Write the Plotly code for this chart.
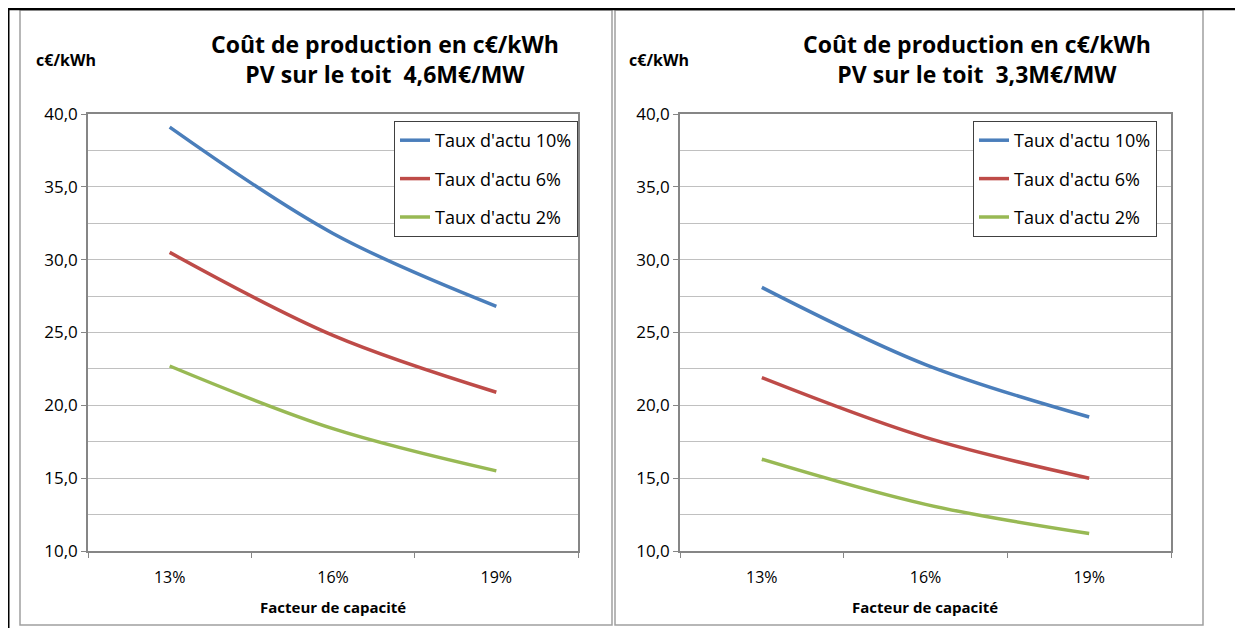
import plotly.graph_objects as go

# data
capacity = ["13%", "16%", "19%"]
series_names = ["Taux d'actu 10%", "Taux d'actu 6%", "Taux d'actu 2%"]
cost_46 = [[39.1, 31.8, 26.8],   # 4,6 M€/MW
           [30.5, 24.8, 20.9],
           [22.7, 18.4, 15.5]]
cost_33 = [[28.1, 22.8, 19.2],   # 3,3 M€/MW
           [21.9, 17.8, 15.0],
           [16.3, 13.2, 11.2]]
titles = ["Coût de production en c€/kWh<br>PV sur le toit  4,6M€/MW",
          "Coût de production en c€/kWh<br>PV sur le toit  3,3M€/MW"]
colors = ["#4A7EBB", "#BE4B48", "#98B954"]

# the page body has an 8px margin, so the figure starts at (8, 8)
OFF = 8
W, H = 1243 - OFF, 628 - OFF
FONT = "Open Sans, sans-serif"


def px(x):
    return (x - OFF) / W


def py(y):
    return 1 - (y - OFF) / H


fig = go.Figure()

for i, name in enumerate(series_names):
    fig.add_trace(go.Scatter(x=capacity, y=cost_46[i], name=name, mode="lines",
                             line=dict(color=colors[i], width=3.5, shape="spline"),
                             xaxis="x", yaxis="y", legend="legend", legendgroup="a%d" % i))
for i, name in enumerate(series_names):
    fig.add_trace(go.Scatter(x=capacity, y=cost_33[i], name=name, mode="lines",
                             line=dict(color=colors[i], width=3.5, shape="spline"),
                             xaxis="x2", yaxis="y2", legend="legend2", legendgroup="b%d" % i))

xax = dict(type="category", range=[-0.5, len(capacity) - 0.5],
           tickson="boundaries", ticks="outside", ticklen=5,
           tickcolor="#868686", showline=True, linecolor="#868686", linewidth=1.5,
           mirror=True, showgrid=False, automargin=False, ticklabelstandoff=11,
           tickfont=dict(size=16, color="black", family=FONT))
yax = dict(range=[10, 40], dtick=5, tickformat=".1f", ticks="outside", ticklen=5,
           tickcolor="#868686", showline=True, linecolor="#868686", linewidth=1.5,
           mirror=True, showgrid=True, gridcolor="#C0C0C0", gridwidth=1,
           minor=dict(dtick=2.5, showgrid=True, gridcolor="#C0C0C0", gridwidth=1),
           automargin=False, zeroline=False,
           tickfont=dict(size=17, color="black", family=FONT))

leg = dict(bordercolor="#404040", borderwidth=1, bgcolor="white",
           font=dict(size=18, color="black", family=FONT), tracegroupgap=12,
           xanchor="right", yanchor="top", y=py(121))

fig.update_layout(
    width=W, height=H, autosize=False,
    margin=dict(l=0, r=0, t=0, b=0, pad=0, autoexpand=False),
    paper_bgcolor="white", plot_bgcolor="white", separators=",.",
    font=dict(family=FONT),
    xaxis=dict(domain=[px(88), px(578)], anchor="y", **xax),
    yaxis=dict(domain=[py(551), py(114)], anchor="x", **yax),
    xaxis2=dict(domain=[px(680), px(1171)], anchor="y2", **xax),
    yaxis2=dict(domain=[py(551), py(114)], anchor="x2", **yax),
    legend=dict(x=px(578), **leg),
    legend2=dict(x=px(1157), **leg),
)

# titles and axis labels
for cx, ux, xx, t in [(385, 66, 333, titles[0]), (977, 659, 925, titles[1])]:
    fig.add_annotation(x=px(cx), y=py(59), xref="paper", yref="paper", text="<b>%s</b>" % t,
                       xanchor="center", yanchor="middle", showarrow=False,
                       font=dict(size=23, color="black", family=FONT))
    fig.add_annotation(x=px(ux), y=py(60), xref="paper", yref="paper", text="<b>c€/kWh</b>",
                       xanchor="center", yanchor="middle", showarrow=False,
                       font=dict(size=16, color="black", family=FONT))
    fig.add_annotation(x=px(xx), y=py(607), xref="paper", yref="paper",
                       text="<b>Facteur de capacité</b>",
                       xanchor="center", yanchor="middle", showarrow=False,
                       font=dict(size=15, color="black", family=FONT))

# panel frames
for x0, x1 in [(20, 612), (615, 1203)]:
    fig.add_shape(type="rect", xref="paper", yref="paper", x0=px(x0), x1=px(x1),
                  y0=py(625), y1=py(10), line=dict(color="#A0A0A0", width=1.5))
fig.add_shape(type="line", xref="paper", yref="paper", x0=px(8), x1=px(8), y0=0, y1=py(9),
              line=dict(color="black", width=3))
fig.add_shape(type="line", xref="paper", yref="paper", x0=px(8), x1=1, y0=py(9), y1=py(9),
              line=dict(color="black", width=2.5))

fig.write_html("out.html")
